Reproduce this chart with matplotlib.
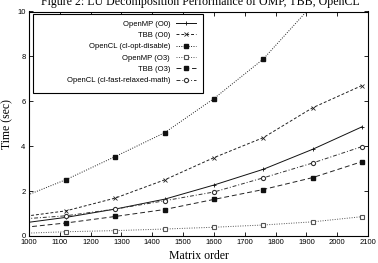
import matplotlib
matplotlib.use("Agg")
import matplotlib.pyplot as plt
from matplotlib.patches import Rectangle

# Data
matrix_order = [960, 1120, 1280, 1440, 1600, 1760, 1920, 2080]
openmp_o0 = [0.54, 0.83, 1.20, 1.64, 2.27, 2.97, 3.86, 4.86]
tbb_o0 = [0.83, 1.12, 1.69, 2.50, 3.49, 4.38, 5.71, 6.70]
opencl_opt_disable = [1.63, 2.51, 3.54, 4.60, 6.12, 7.88, 10.3, 13.0]
openmp_o3 = [0.11, 0.19, 0.24, 0.31, 0.39, 0.49, 0.63, 0.86]
tbb_o3 = [0.35, 0.58, 0.87, 1.18, 1.63, 2.07, 2.60, 3.31]
opencl_fast = [0.74, 0.90, 1.20, 1.57, 1.96, 2.59, 3.25, 3.98]
labels = ["OpenMP (O0)", "TBB (O0)", "OpenCL (cl-opt-disable)",
          "OpenMP (O3)", "TBB (O3)", "OpenCL (cl-fast-relaxed-math)"]
xticks = list(range(1000, 2101, 100))
yticks = [0, 2, 4, 6, 8, 10]

W, H = 378, 263
fig = plt.figure(figsize=(W / 100, H / 100), dpi=100)
ax = fig.add_axes([29 / W, 1 - 236 / H, (368 - 29) / W, (236 - 11.5) / H])

sans = "Liberation Sans"
serif = "Liberation Serif"

styles = [
    dict(color="#111111", ls="-", marker="+", ms=3, mew=0.6),
    dict(color="#222222", ls=(0, (3, 2)), marker="x", ms=2.8, mew=0.6),
    dict(color="#222222", ls=(0, (1, 1.5)), marker="s", ms=2.6, mfc="#111111", mec="#111111"),
    dict(color="#555555", ls=(0, (1, 1.5)), marker="s", ms=3.0, mfc="white", mec="#555555", mew=0.8),
    dict(color="#222222", ls=(0, (5, 3)), marker="s", ms=2.6, mfc="#111111", mec="#111111"),
    dict(color="#333333", ls=(0, (4, 2, 1, 2)), marker="o", ms=3.0, mfc="white", mec="#333333", mew=0.8),
]
series = [openmp_o0, tbb_o0, opencl_opt_disable, openmp_o3, tbb_o3, opencl_fast]
for ys, lab, st in zip(series, labels, styles):
    ax.plot(matrix_order, ys, label=lab, lw=0.7, **st)

ax.set_xlim(1000, 2100)
ax.set_ylim(0, 10)
ax.set_xticks(xticks)
ax.set_yticks(yticks)
ax.tick_params(direction="in", top=True, right=True, length=3, width=0.6,
               labelsize=5.5, pad=2.5)
for lbl in ax.get_xticklabels() + ax.get_yticklabels():
    lbl.set_fontfamily(sans)
for sp in ax.spines.values():
    sp.set_linewidth(0.8)

ax.set_xlabel("Matrix order", fontfamily=serif, fontsize=8.5, labelpad=2.5)
ax.set_ylabel("Time (sec)", fontfamily=serif, fontsize=8.5, labelpad=2.5)
fig.text(200 / W, 1 - 5 / H, "Figure 2: LU Decomposition Performance of OMP, TBB, OpenCL",
         ha="center", va="baseline", fontfamily=serif, fontsize=8.6)

# Legend frame (gnuplot style, wider than its content)
frame = Rectangle((33 / W, 1 - 93 / H), (203 - 33) / W, (93 - 14.3) / H,
                  transform=fig.transFigure, facecolor="white", edgecolor="black",
                  linewidth=0.8, zorder=4)
fig.add_artist(frame)
leg = fig.legend(*ax.get_legend_handles_labels(), loc="upper right",
                 bbox_to_anchor=(196 / W, 1 - 20.5 / H), bbox_transform=fig.transFigure,
                 markerfirst=False, frameon=False, borderaxespad=0, borderpad=0,
                 prop=dict(family=sans, size=5.5), handlelength=2.6,
                 handletextpad=0.8, labelspacing=0.52)
leg.set_zorder(5)

fig.savefig("out.png", dpi=100)
